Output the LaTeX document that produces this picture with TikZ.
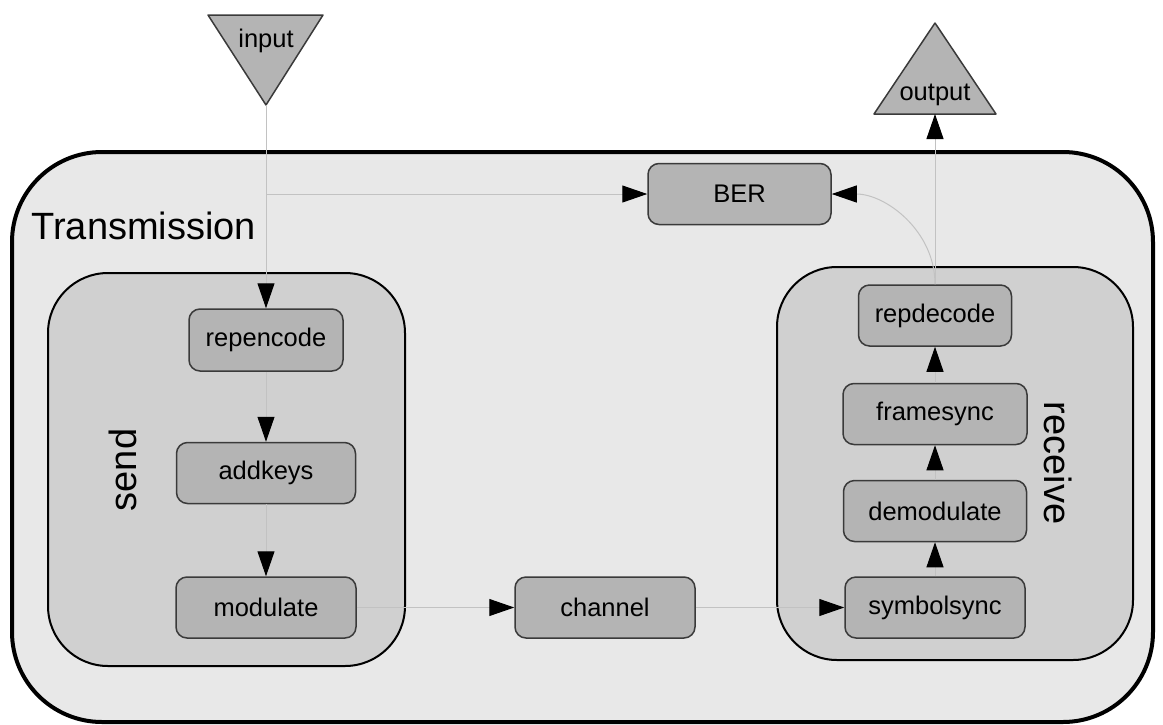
\documentclass[tikz,border=0pt]{standalone}
\usepackage{fontspec}
\setmainfont{Liberation Sans}
\usetikzlibrary{arrows.meta}
\definecolor{outerfill}{HTML}{E8E8E8}
\definecolor{clusterfill}{HTML}{D0D0D0}
\definecolor{nodefill}{HTML}{B4B4B4}
\definecolor{edgegray}{HTML}{C2C2C2}
\definecolor{nodeline}{HTML}{3A3A3A}

\begin{document}
\begin{tikzpicture}[x=1pt,y=-1pt,
  block/.style={draw=nodeline, line width=1.5pt, fill=nodefill, rounded corners=11pt,
    minimum width=180pt, minimum height=61pt, inner sep=0pt,
    font=\fontsize{25.5}{30}\selectfont},
  edge/.style={draw=edgegray, line width=1pt, -{Triangle[length=25pt,width=17pt,black]}},
  cluster/.style={draw=black, line width=2pt, fill=clusterfill, rounded corners=60pt},
  port/.style={draw=nodeline, line width=1.5pt, fill=nodefill, line join=round},
  biglabel/.style={font=\fontsize{38}{44}\selectfont}]
  \useasboundingbox (0,0) rectangle (1163,724);
  % outer cluster and the two inner ones
  \draw[line width=4pt, fill=outerfill, rounded corners=90pt] (12,152) rectangle (1153,722);
  \draw[cluster] (48,273) rectangle (405,666);
  \draw[cluster] (777,267) rectangle (1133,660);
  \node[biglabel, anchor=base west] (transmission) at (28,239) {Transmission};
  \node[biglabel, rotate=90] (send) at (123,470) {send};
  \node[biglabel, rotate=-90] (receive) at (1058,463) {receive};
  % ports
  \draw[port] (208,15) -- (323,15) -- (266,105) -- cycle;
  \coordinate (input) at (266,105);
  \node[font=\fontsize{25.5}{30}\selectfont, anchor=base] (inputlabel) at (266,47) {input};
  \draw[port] (874,114) -- (996,114) -- (935,23) -- cycle;
  \coordinate (output) at (935,114);
  \node[font=\fontsize{25.5}{30}\selectfont, anchor=base] (outputlabel) at (935,100) {output};
  % blocks
  \node[block, minimum width=183pt] (BER) at (739.5,194) {BER};
  \node[block, minimum width=154pt, minimum height=62pt] (repencode) at (266,340) {repencode};
  \node[block, minimum width=179pt] (addkeys) at (266,473) {addkeys};
  \node[block] (modulate) at (266,607.5) {modulate};
  \node[block] (channel) at (605,607.5) {channel};
  \node[block] (symbolsync) at (935,607.5) {symbolsync};
  \node[block, minimum width=183pt] (demodulate) at (935,511) {demodulate};
  \node[block, minimum width=184pt] (framesync) at (935,414) {framesync};
  \node[block, minimum width=153pt] (repdecode) at (935,315.5) {repdecode};
  % connectors
  \draw[edge] (input) -- (repencode);
  \draw[edge] (input) |- (BER);
  \draw[edge] (repencode) -- (addkeys);
  \draw[edge] (addkeys) -- (modulate);
  \draw[edge] (modulate) -- (channel);
  \draw[edge] (channel) -- (symbolsync);
  \draw[edge] (symbolsync) -- (demodulate);
  \draw[edge] (demodulate) -- (framesync);
  \draw[edge] (framesync) -- (repdecode);
  \draw[edge] (repdecode) -- (output);
  \draw[edge] (repdecode.north) to[out=90, in=0] (BER.east);
\end{tikzpicture}
\end{document}
